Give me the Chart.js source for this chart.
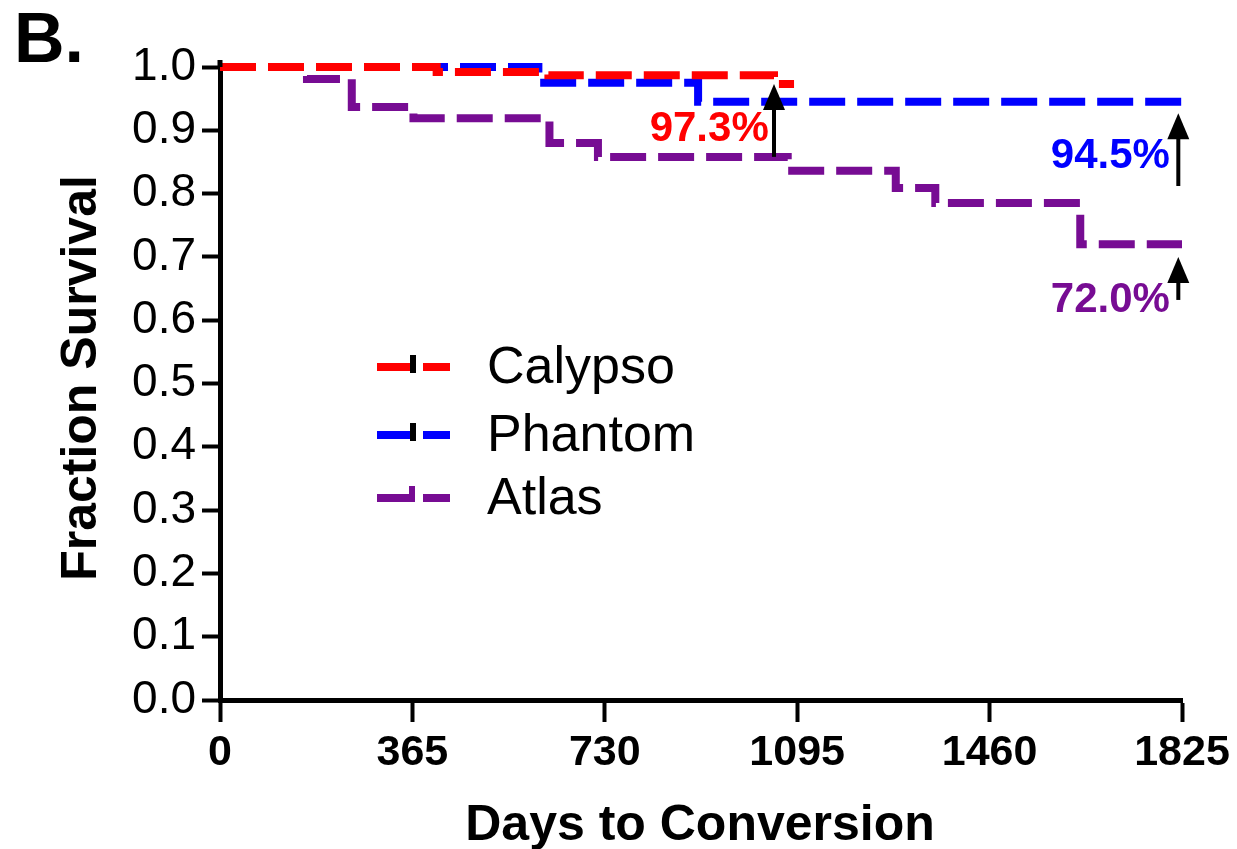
<!DOCTYPE html>
<html>
<head>
<meta charset="utf-8">
<script src="https://cdn.jsdelivr.net/npm/chart.js@4.4.1/dist/chart.umd.min.js"></script>
<style>
  html, body { margin: 0; padding: 0; background: #fff; }
  #wrap { width: 1237px; height: 849px; }
</style>
</head>
<body>
<div id="wrap"><canvas id="kmChart" width="1237" height="849"></canvas></div>
<script>
// Kaplan-Meier style survival
const seriesNames = ["Calypso", "Phantom", "Atlas"];

const calypsoDays = [0, 411, 623, 1051, 1089];
const calypsoSurvival = [1.0, 0.992, 0.987, 0.973, 0.973];

const phantomDays = [0, 604, 907, 1825];
const phantomSurvival = [1.0, 0.975, 0.945, 0.945];

const atlasDays = [0, 165, 250, 367, 625, 717, 1077, 1282, 1357, 1632, 1825];
const atlasSurvival = [1.0, 0.981, 0.937, 0.919, 0.880, 0.858, 0.836, 0.809, 0.785, 0.720, 0.720];

const xTicks = [0, 365, 730, 1095, 1460, 1825];
const yTicks = [0.0, 0.1, 0.2, 0.3, 0.4, 0.5, 0.6, 0.7, 0.8, 0.9, 1.0];

// final-survival callouts: text, arrow day, arrow from/to (survival units)
const calloutText = ["97.3%", "94.5%", "72.0%"];
const calloutDay = [1051, 1818, 1818];
const calloutFrom = [0.858, 0.812, 0.632];
const calloutTo = [0.973, 0.927, 0.700];
const calloutLabelDay = [1041, 1802, 1802];
const calloutLabelY = [0.902, 0.858, 0.632];

const colors = ["#ff0000", "#0000ff", "#770c93"];
const FONT = "'Liberation Sans', Arial, sans-serif";

function toPoints(days, vals) {
    return days.map((d, i) => ({ x: d, y: vals[i] }));
}

function makeSet(i, days, vals) {
    return {
        label: seriesNames[i],
        data: toPoints(days, vals),
        borderColor: colors[i],
        borderWidth: 8,
        borderDash: [36, 12],
        borderCapStyle: "butt",
        stepped: "before",
        fill: false,
        pointRadius: 0,
        clip: false
    };
}

function drawArrow(ctx, x, yFrom, yTo) {
    const head = 26;
    ctx.save();
    ctx.strokeStyle = "#000";
    ctx.fillStyle = "#000";
    ctx.lineWidth = 4;
    ctx.beginPath();
    ctx.moveTo(x, yFrom);
    ctx.lineTo(x, yTo + head - 2);
    ctx.stroke();
    ctx.beginPath();
    ctx.moveTo(x, yTo);
    ctx.lineTo(x - 11, yTo + head);
    ctx.lineTo(x + 11, yTo + head);
    ctx.closePath();
    ctx.fill();
    ctx.restore();
}

const extras = {
    id: "extras",
    afterDraw(chart) {
        const ctx = chart.ctx;
        const xs = chart.scales.x;
        const ys = chart.scales.y;
        ctx.save();

        // panel letter
        ctx.fillStyle = "#000";
        ctx.font = "bold 70px " + FONT;
        ctx.textAlign = "left";
        ctx.textBaseline = "alphabetic";
        ctx.fillText("B.", 14, 62);

        // axis titles
        ctx.font = "bold 50px " + FONT;
        ctx.textAlign = "center";
        ctx.textBaseline = "middle";
        ctx.fillText("Days to Conversion", 700, 826);
        ctx.save();
        ctx.translate(82, 378);
        ctx.rotate(-Math.PI / 2);
        ctx.fillText("Fraction Survival", 0, 0);
        ctx.restore();

        // small extension of the y axis above 1.0
        ctx.fillRect(ys.right - 2.5, 60, 5, ys.top - 60);

        // callouts
        ctx.font = "bold 42px " + FONT;
        ctx.textAlign = "right";
        for (let i = 0; i < calloutText.length; i++) {
            const x = xs.getPixelForValue(calloutDay[i]);
            drawArrow(ctx, x, ys.getPixelForValue(calloutFrom[i]), ys.getPixelForValue(calloutTo[i]));
            ctx.fillStyle = colors[i];
            ctx.fillText(calloutText[i], xs.getPixelForValue(calloutLabelDay[i]), ys.getPixelForValue(calloutLabelY[i]));
        }

        // legend
        const rowY = [367, 435, 498];
        ctx.font = "52px " + FONT;
        ctx.textAlign = "left";
        for (let i = 0; i < seriesNames.length; i++) {
            const y = rowY[i];
            ctx.fillStyle = colors[i];
            ctx.fillRect(377, y - 4, 33, 8);
            ctx.fillRect(423, y - 4, 27, 8);
            if (i < 2) {
                ctx.fillStyle = "#000";
                ctx.fillRect(410, y - 12, 6, 18);
            } else {
                ctx.fillRect(409, y - 12, 6, 16);
            }
            ctx.fillStyle = "#000";
            ctx.fillText(seriesNames[i], 487, y + 2);
        }
        ctx.restore();
    }
};

new Chart(document.getElementById("kmChart"), {
    type: "line",
    data: {
        datasets: [
            makeSet(0, calypsoDays, calypsoSurvival),
            makeSet(1, phantomDays, phantomSurvival),
            makeSet(2, atlasDays, atlasSurvival)
        ]
    },
    options: {
        responsive: false,
        animation: false,
        devicePixelRatio: 1,
        layout: { padding: { top: 67, right: 55, left: 0, bottom: 0 } },
        plugins: { legend: { display: false }, tooltip: { enabled: false } },
        scales: {
            x: {
                type: "linear",
                min: 0,
                max: 1825,
                afterBuildTicks: s => { s.ticks = xTicks.map(v => ({ value: v })); },
                afterFit: s => { s.height = 149; },
                ticks: {
                    color: "#000",
                    font: { family: FONT, size: 43, weight: "bold" },
                    padding: 5,
                    maxRotation: 0,
                    autoSkip: false,
                    callback: v => String(v)
                },
                grid: { display: true, drawOnChartArea: false, drawTicks: true, tickLength: 22, tickWidth: 4, tickColor: "#000" },
                border: { display: true, color: "#000", width: 5 }
            },
            y: {
                min: 0,
                max: 1,
                afterBuildTicks: s => { s.ticks = yTicks.map(v => ({ value: v })); },
                afterFit: s => { s.width = 220; },
                ticks: {
                    color: "#000",
                    font: { family: FONT, size: 46 },
                    padding: 6,
                    autoSkip: false,
                    callback: v => Number(v).toFixed(1)
                },
                grid: { display: true, drawOnChartArea: false, drawTicks: true, tickLength: 18, tickWidth: 4, tickColor: "#000" },
                border: { display: true, color: "#000", width: 5 }
            }
        }
    },
    plugins: [extras]
});
</script>
</body>
</html>
